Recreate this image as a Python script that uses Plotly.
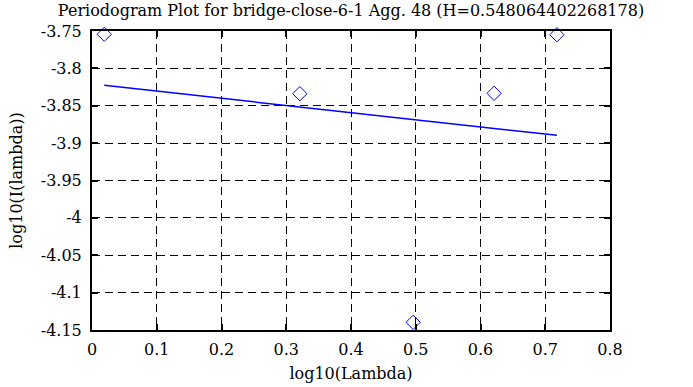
import plotly.graph_objects as go

# Data
log_lambda = [0.019, 0.321, 0.496, 0.621, 0.718]
log_I = [-3.7544, -3.8339, -4.1397, -3.8334, -3.7550]
fit_x = [0.019, 0.718]
fit_y = [-3.8227, -3.8896]

x_ticks = [0, 0.1, 0.2, 0.3, 0.4, 0.5, 0.6, 0.7, 0.8]
x_tick_labels = ["0", "0.1", "0.2", "0.3", "0.4", "0.5", "0.6", "0.7", "0.8"]
y_ticks = [-3.75, -3.8, -3.85, -3.9, -3.95, -4.0, -4.05, -4.1, -4.15]
y_tick_labels = ["-3.75", "-3.8", "-3.85", "-3.9", "-3.95", "-4", "-4.05", "-4.1", "-4.15"]

title_text = "Periodogram Plot for bridge-close-6-1 Agg. 48 (H=0.548064402268178)"

font_family = "DejaVu Serif, serif"
fs = 16

fig = go.Figure()
fig.add_trace(go.Scatter(
    x=fit_x, y=fit_y, mode="lines",
    line=dict(color="#0000ff", width=1.5),
    showlegend=False, hoverinfo="skip",
))
fig.add_trace(go.Scatter(
    x=log_lambda, y=log_I, mode="markers",
    marker=dict(symbol="diamond-open", size=11, color="#0000ff", line=dict(width=1, color="#0000ff")),
    showlegend=False, cliponaxis=False,
))

axis_common = dict(
    showline=True, linecolor="black", linewidth=2, mirror="ticks",
    ticks="inside", ticklen=6, tickcolor="black", tickwidth=2,
    showgrid=True, gridcolor="black", gridwidth=1, griddash="8px,5px",
    zeroline=False, automargin=False,
    tickfont=dict(family=font_family, size=fs, color="black"),
    title_font=dict(family=font_family, size=fs, color="black"),
)

fig.update_xaxes(
    range=[0, 0.8], tickvals=x_ticks, ticktext=x_tick_labels,
    title_text="log10(Lambda)", title_standoff=10, ticklabelstandoff=4, **axis_common,
)
fig.update_yaxes(
    range=[-4.15, -3.75], tickvals=y_ticks, ticktext=y_tick_labels,
    title_text="log10(I(lambda))", title_standoff=14, ticklabelstandoff=5, **axis_common,
)

fig.update_layout(
    width=693, height=387,
    margin=dict(l=92, r=83, t=31, b=57, autoexpand=False),
    paper_bgcolor="white", plot_bgcolor="white",
    title=dict(text=title_text, x=(92 + 610) / 2 / 693, xanchor="center",
               y=1 - 10 / 387, yanchor="middle", automargin=False,
               font=dict(family=font_family, size=fs, color="black")),
    font=dict(family=font_family, color="black"),
)

fig.write_html("out.html", config={"displayModeBar": False},
               post_script="document.body.style.margin='0';document.body.style.padding='0';")
